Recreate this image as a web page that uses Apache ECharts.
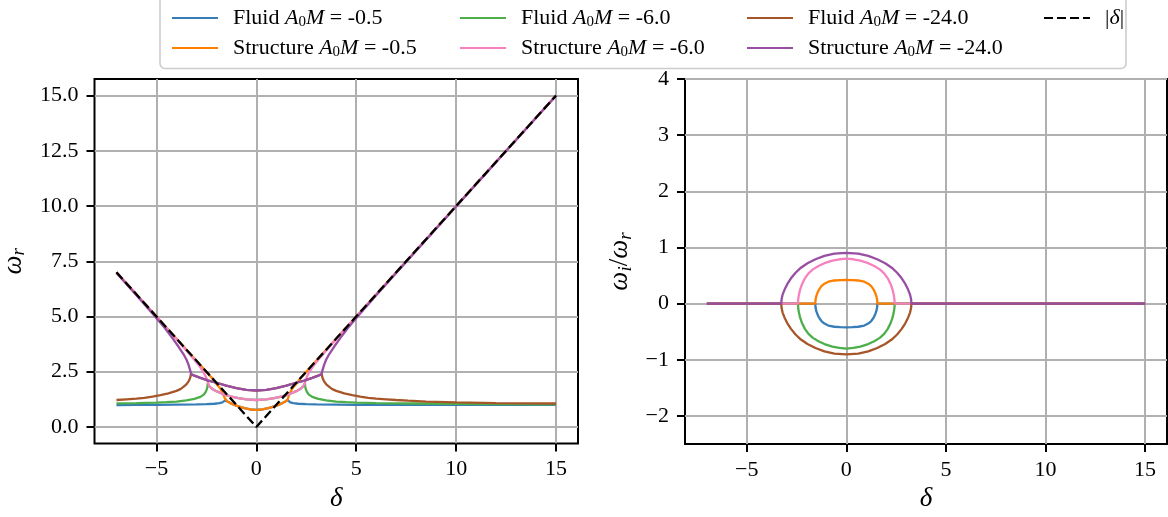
<!DOCTYPE html>
<html><head><meta charset="utf-8">
<script src="https://cdn.jsdelivr.net/npm/echarts@6/dist/echarts.min.js"></script>
<style>html,body{margin:0;padding:0;background:#fff}#c{width:1168px;height:517px}</style>
</head><body><div id="c"></div>
<script>
// ---------- tick values ----------
const xTicks = [-5, 0, 5, 10, 15];
const yTicksLeft = [0, 2.5, 5, 7.5, 10, 12.5, 15];
const yTicksRight = [-2, -1, 0, 1, 2, 3, 4];

// ---------- series names & colours ----------
const names = ['Fluid A0M = -0.5', 'Structure A0M = -0.5', 'Fluid A0M = -6.0',
  'Structure A0M = -6.0', 'Fluid A0M = -24.0', 'Structure A0M = -24.0', '|δ|'];
const colors = ['#377eb8', '#ff7f00', '#4daf4a', '#f781bf', '#a65628', '#984ea3', '#000000'];

// ---------- left panel: omega_r vs delta ----------
const fluid05_wr = [[-7,0.99],[-6,1.0],[-5,1.0],[-4,1.01],[-3,1.02],[-2.5,1.03],[-2.1,1.05],[-1.85,1.08],[-1.7,1.11],[-1.62,1.15],[-1.575,1.19],[-1.56,1.22],[-1.45,1.15],[-1.3,1.08],[-1.1,1.0],[-0.9,0.93],[-0.6,0.85],[-0.3,0.79],[0,0.77],[0.3,0.79],[0.6,0.85],[0.9,0.93],[1.1,1.0],[1.3,1.08],[1.45,1.15],[1.56,1.22],[1.575,1.19],[1.62,1.15],[1.7,1.11],[1.85,1.08],[2.1,1.05],[2.5,1.03],[3,1.02],[4,1.01],[5,1.0],[7,1.0],[10,1.0],[15,1.0]];
const struct05_wr = [[-7,7],[-5,5],[-3,3],[-2.5,2.5],[-2.2,2.19],[-2.0,1.95],[-1.85,1.8],[-1.75,1.66],[-1.68,1.53],[-1.62,1.4],[-1.58,1.3],[-1.56,1.22],[-1.45,1.15],[-1.3,1.08],[-1.1,1.0],[-0.9,0.93],[-0.6,0.85],[-0.3,0.79],[0,0.77],[0.3,0.79],[0.6,0.85],[0.9,0.93],[1.1,1.0],[1.3,1.08],[1.45,1.15],[1.56,1.22],[1.58,1.3],[1.62,1.4],[1.68,1.53],[1.75,1.66],[1.85,1.8],[2.0,1.95],[2.2,2.19],[2.5,2.5],[3,3],[5,5],[10,10],[15,15]];
const fluid6_wr = [[-7,1.07],[-6,1.08],[-5,1.1],[-4.5,1.12],[-4,1.15],[-3.5,1.2],[-3.1,1.27],[-2.8,1.36],[-2.65,1.45],[-2.55,1.56],[-2.48,1.7],[-2.45,1.82],[-2.43,1.97],[-2.35,1.84],[-2.2,1.72],[-2.0,1.62],[-1.7,1.5],[-1.3,1.38],[-0.9,1.3],[-0.5,1.25],[0,1.22],[0.5,1.25],[0.9,1.3],[1.3,1.38],[1.7,1.5],[2.0,1.62],[2.2,1.72],[2.35,1.84],[2.43,1.97],[2.45,1.82],[2.48,1.7],[2.55,1.56],[2.65,1.45],[2.8,1.36],[3.1,1.27],[3.5,1.2],[4,1.15],[4.5,1.12],[5,1.1],[6,1.08],[7,1.07],[8,1.06],[10,1.04],[12,1.03],[15,1.02]];
const struct6_wr = [[-7,6.99],[-5,4.99],[-4,3.98],[-3.5,3.46],[-3.1,3.04],[-2.85,2.76],[-2.68,2.53],[-2.56,2.33],[-2.48,2.16],[-2.44,2.05],[-2.43,1.97],[-2.35,1.84],[-2.2,1.72],[-2.0,1.62],[-1.7,1.5],[-1.3,1.38],[-0.9,1.3],[-0.5,1.25],[0,1.22],[0.5,1.25],[0.9,1.3],[1.3,1.38],[1.7,1.5],[2.0,1.62],[2.2,1.72],[2.35,1.84],[2.43,1.97],[2.44,2.05],[2.48,2.16],[2.56,2.33],[2.68,2.53],[2.85,2.76],[3.1,3.04],[3.5,3.46],[4,3.98],[5,4.99],[7,6.99],[10,9.99],[15,15]];
const fluid24_wr = [[-7,1.22],[-6.5,1.25],[-6,1.28],[-5.6,1.32],[-5.2,1.37],[-4.8,1.44],[-4.4,1.52],[-4.0,1.63],[-3.8,1.71],[-3.65,1.81],[-3.5,1.93],[-3.4,2.05],[-3.33,2.18],[-3.29,2.3],[-3.27,2.4],[-3.1,2.32],[-2.8,2.22],[-2.4,2.1],[-2.0,2.0],[-1.5,1.87],[-1.0,1.76],[-0.5,1.68],[0,1.65],[0.5,1.68],[1.0,1.76],[1.5,1.87],[2.0,2.0],[2.4,2.1],[2.8,2.22],[3.1,2.32],[3.27,2.4],[3.29,2.3],[3.33,2.18],[3.4,2.05],[3.5,1.93],[3.65,1.81],[3.8,1.71],[4.0,1.63],[4.4,1.52],[4.8,1.44],[5.2,1.37],[5.6,1.32],[6,1.28],[6.5,1.25],[7,1.22],[7.6,1.19],[8.5,1.15],[10,1.11],[12,1.08],[15,1.06]];
const struct24_wr = [[-7,6.97],[-6,5.96],[-5.2,5.14],[-4.6,4.5],[-4.2,4.02],[-3.9,3.64],[-3.65,3.3],[-3.5,3.05],[-3.4,2.83],[-3.33,2.62],[-3.29,2.5],[-3.27,2.4],[-3.1,2.32],[-2.8,2.22],[-2.4,2.1],[-2.0,2.0],[-1.5,1.87],[-1.0,1.76],[-0.5,1.68],[0,1.65],[0.5,1.68],[1.0,1.76],[1.5,1.87],[2.0,2.0],[2.4,2.1],[2.8,2.22],[3.1,2.32],[3.27,2.4],[3.29,2.5],[3.33,2.62],[3.4,2.83],[3.5,3.05],[3.65,3.3],[3.9,3.64],[4.2,4.02],[4.6,4.5],[5.2,5.14],[6,5.96],[7,6.97],[10,9.98],[15,14.99]];
const absDelta = [[-7,7],[0,0],[15,15]];

// ---------- right panel: omega_i/omega_r vs delta ----------
const fluid05_ratio = [[-7,0],[-1.56,0],[-1.545,-0.07],[-1.51,-0.13],[-1.45,-0.19],[-1.37,-0.25],[-1.25,-0.31],[-1.1,-0.355],[-0.9,-0.39],[-0.6,-0.412],[-0.3,-0.42],[0,-0.422],[0.3,-0.42],[0.6,-0.412],[0.9,-0.39],[1.1,-0.355],[1.25,-0.31],[1.37,-0.25],[1.45,-0.19],[1.51,-0.13],[1.545,-0.07],[1.56,0],[15,0]];
const struct05_ratio = [[-7,0],[-1.56,0],[-1.545,0.07],[-1.51,0.13],[-1.45,0.19],[-1.37,0.25],[-1.25,0.31],[-1.1,0.355],[-0.9,0.39],[-0.6,0.412],[-0.3,0.42],[0,0.422],[0.3,0.42],[0.6,0.412],[0.9,0.39],[1.1,0.355],[1.25,0.31],[1.37,0.25],[1.45,0.19],[1.51,0.13],[1.545,0.07],[1.56,0],[15,0]];
const fluid6_ratio = [[-7,0],[-2.43,0],[-2.415,-0.08],[-2.38,-0.16],[-2.32,-0.25],[-2.22,-0.35],[-2.08,-0.45],[-1.9,-0.54],[-1.68,-0.61],[-1.4,-0.67],[-1.1,-0.72],[-0.7,-0.765],[-0.35,-0.79],[0,-0.8],[0.35,-0.79],[0.7,-0.765],[1.1,-0.72],[1.4,-0.67],[1.68,-0.61],[1.9,-0.54],[2.08,-0.45],[2.22,-0.35],[2.32,-0.25],[2.38,-0.16],[2.415,-0.08],[2.43,0],[15,0]];
const struct6_ratio = [[-7,0],[-2.43,0],[-2.415,0.08],[-2.38,0.16],[-2.32,0.25],[-2.22,0.35],[-2.08,0.45],[-1.9,0.54],[-1.68,0.61],[-1.4,0.67],[-1.1,0.72],[-0.7,0.765],[-0.35,0.79],[0,0.8],[0.35,0.79],[0.7,0.765],[1.1,0.72],[1.4,0.67],[1.68,0.61],[1.9,0.54],[2.08,0.45],[2.22,0.35],[2.32,0.25],[2.38,0.16],[2.415,0.08],[2.43,0],[15,0]];
const fluid24_ratio = [[-7,0],[-3.27,0],[-3.25,-0.08],[-3.2,-0.16],[-3.1,-0.25],[-2.96,-0.35],[-2.78,-0.45],[-2.55,-0.55],[-2.28,-0.64],[-1.95,-0.72],[-1.55,-0.79],[-1.1,-0.85],[-0.6,-0.89],[0,-0.905],[0.6,-0.89],[1.1,-0.85],[1.55,-0.79],[1.95,-0.72],[2.28,-0.64],[2.55,-0.55],[2.78,-0.45],[2.96,-0.35],[3.1,-0.25],[3.2,-0.16],[3.25,-0.08],[3.27,0],[15,0]];
const struct24_ratio = [[-7,0],[-3.27,0],[-3.25,0.08],[-3.2,0.16],[-3.1,0.25],[-2.96,0.35],[-2.78,0.45],[-2.55,0.55],[-2.28,0.64],[-1.95,0.72],[-1.55,0.79],[-1.1,0.85],[-0.6,0.89],[0,0.905],[0.6,0.89],[1.1,0.85],[1.55,0.79],[1.95,0.72],[2.28,0.64],[2.55,0.55],[2.78,0.45],[2.96,0.35],[3.1,0.25],[3.2,0.16],[3.25,0.08],[3.27,0],[15,0]];

const leftData = [fluid05_wr, struct05_wr, fluid6_wr, struct6_wr, fluid24_wr, struct24_wr, absDelta];
const rightData = [fluid05_ratio, struct05_ratio, fluid6_ratio, struct6_ratio, fluid24_ratio, struct24_ratio];

// ---------- chart ----------
const FONT = "'Liberation Serif', 'Times New Roman', serif";
const minusFmt = v => '{n|' + String(v).replace('-', '\u2212') + '}';
const fixedFmt = v => '{n|' + v.toFixed(1) + '}';
const tickRich = {n: {fontFamily: FONT, fontSize: 22, color: '#000'}};
const richMath = {
  t: {fontFamily: FONT, fontSize: 22, color: '#000', lineHeight: 24},
  i: {fontFamily: FONT, fontSize: 22, fontStyle: 'italic', color: '#000', lineHeight: 24},
  s: {fontFamily: FONT, fontSize: 15, fontStyle: 'normal', color: '#000', lineHeight: 14, verticalAlign: 'bottom'}
};
const richName = {
  t: {fontFamily: FONT, fontSize: 27, color: '#000', lineHeight: 30},
  i: {fontFamily: FONT, fontSize: 27, fontStyle: 'italic', color: '#000', lineHeight: 30},
  s: {fontFamily: FONT, fontSize: 19, fontStyle: 'italic', color: '#000', lineHeight: 18, verticalAlign: 'bottom'}
};
function legendFmt(name) {
  if (name === '|δ|') return '{t||}{i|δ}{t||}';
  const m = name.match(/^(\S+) A0M = (.+)$/);
  return '{t|' + m[1] + ' }{i|A}{s|0}{i|M}{t| = ' + m[2] + '}';
}
function xAxisCfg(gi) {
  return {
    type: 'value', gridIndex: gi, min: -8.1, max: 16.1,
    axisLine: {show: false, onZero: false},
    axisTick: {show: true, length: 8, customValues: xTicks, lineStyle: {color: '#000', width: 2}},
    axisLabel: {customValues: xTicks, formatter: minusFmt, rich: tickRich, fontFamily: FONT, fontSize: 22, color: '#000', margin: 15},
    splitLine: {show: true, lineStyle: {color: '#b0b0b0', width: 2}},
    name: '{i|δ}', nameLocation: 'middle', nameGap: 38,
    nameTextStyle: {rich: richName}
  };
}
function yAxisCfg(gi, min, max, ticks, fmt, name, gap) {
  return {
    type: 'value', gridIndex: gi, min: min, max: max,
    axisLine: {show: false, onZero: false},
    axisTick: {show: true, length: 8, customValues: ticks, lineStyle: {color: '#000', width: 2}},
    axisLabel: {customValues: ticks, formatter: fmt, rich: tickRich, fontFamily: FONT, fontSize: 22, color: '#000', margin: 16},
    splitLine: {show: true, lineStyle: {color: '#b0b0b0', width: 2}},
    name: name, nameLocation: 'middle', nameGap: gap,
    nameTextStyle: {rich: richName}
  };
}
const series = [];
leftData.forEach((d, k) => series.push({
  type: 'line', name: names[k], xAxisIndex: 0, yAxisIndex: 0, data: d,
  symbol: 'none', showSymbol: false, animation: false,
  itemStyle: {color: colors[k]},
  lineStyle: {color: colors[k], width: 2.3, type: k === 6 ? [9, 4] : 'solid'}
}));
rightData.forEach((d, k) => series.push({
  type: 'line', name: names[k], xAxisIndex: 1, yAxisIndex: 1, data: d,
  symbol: 'none', showSymbol: false, animation: false,
  itemStyle: {color: colors[k]},
  lineStyle: {color: colors[k], width: 2.3}
}));
const legendBase = {orient: 'vertical', itemWidth: 46, itemHeight: 14, itemGap: 7, selectedMode: false,
  itemStyle: {opacity: 0},
  formatter: legendFmt, textStyle: {rich: richMath, padding: [0, 0, 0, 10]}};
const option = {
  animation: false,
  backgroundColor: '#fff',
  textStyle: {fontFamily: FONT},
  graphic: [{type: 'rect', z: -10, shape: {x: 160, y: -10, width: 966, height: 78.5, r: 5},
    style: {fill: 'rgba(255,255,255,0.8)', stroke: '#cccccc', lineWidth: 1.6}}],
  legend: [
    Object.assign({}, legendBase, {left: 166, top: 2, data: [names[0], names[1]]}),
    Object.assign({}, legendBase, {left: 454, top: 2, data: [names[2], names[3]]}),
    Object.assign({}, legendBase, {left: 741, top: 2, data: [names[4], names[5]]}),
    Object.assign({}, legendBase, {left: 1038, top: 2, data: [names[6]]})
  ],
  grid: [
    {left: 94.5, top: 79, width: 483.5, height: 364.5, show: true, borderColor: '#000', borderWidth: 2, outerBoundsMode: 'none'},
    {left: 685, top: 79, width: 482, height: 365, show: true, borderColor: '#000', borderWidth: 2, outerBoundsMode: 'none'}
  ],
  xAxis: [xAxisCfg(0), xAxisCfg(1)],
  yAxis: [
    yAxisCfg(0, -0.75, 15.75, yTicksLeft, fixedFmt, '{i|ω}{s|r}', 66),
    yAxisCfg(1, -2.5, 4, yTicksRight, minusFmt, '{i|ω}{s|i}{t|/}{i|ω}{s|r}', 50)
  ],
  series: series
};
const chart = echarts.init(document.getElementById('c'));
chart.setOption(option);
</script>
</body></html>
